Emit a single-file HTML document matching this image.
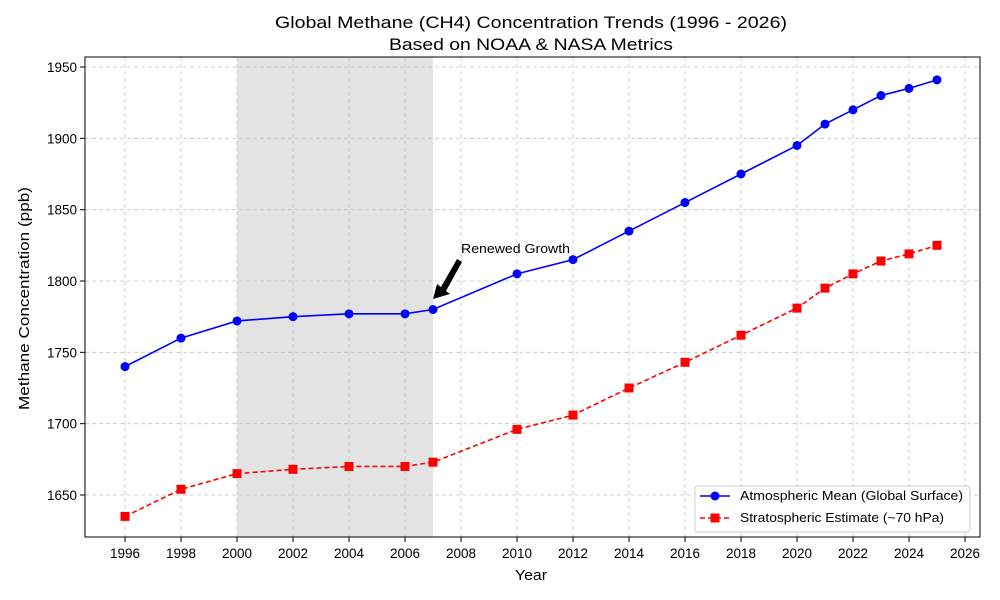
<!DOCTYPE html>
<html><head><meta charset="utf-8"><style>
html,body{margin:0;padding:0;background:#fff;}
svg{display:block;font-family:"Liberation Sans",sans-serif;}
</style></head><body>
<svg id="c" width="1000" height="600" xmlns="http://www.w3.org/2000/svg"></svg>
<script>
const s=document.getElementById('c');
const X=y=>125+(y-1996)*28, Y=v=>495-(v-1650)*(428/300);
let h='';
h+='<rect x="0" y="0" width="1000" height="600" fill="#fff"/>';
h+=`<rect x="${X(2000)}" y="57" width="${X(2007)-X(2000)}" height="480" fill="#e3e3e3"/>`;
for(let y=1996;y<=2026;y+=2){const x=X(y);h+=`<line x1="${x}" y1="57" x2="${x}" y2="537" stroke="#c4c4c4" stroke-dasharray="4,3" stroke-width="0.8"/><line x1="${x}" y1="537" x2="${x}" y2="542" stroke="#000"/><text x="${x}" y="558" font-size="13.5" text-anchor="middle">${y}</text>`;}
for(let v=1650;v<=1950;v+=50){const y=Y(v);h+=`<line x1="85" y1="${y}" x2="980" y2="${y}" stroke="#c4c4c4" stroke-dasharray="4,3" stroke-width="0.8"/><line x1="80" y1="${y}" x2="85" y2="${y}" stroke="#000"/><text x="77" y="${y+5}" font-size="13.5" text-anchor="end">${v}</text>`;}
h+='<rect x="85" y="57" width="895" height="480" fill="none" stroke="#000" stroke-width="1"/>';
const yrs=[1996,1998,2000,2002,2004,2006,2007,2010,2012,2014,2016,2018,2020,2021,2022,2023,2024,2025];
const b=[1740,1760,1772,1775,1777,1777,1780,1805,1815,1835,1855,1875,1895,1910,1920,1930,1935,1941];
const r=[1635,1654,1665,1668,1670,1670,1673,1696,1706,1725,1743,1762,1781,1795,1805,1814,1819,1825];
h+=`<polyline fill="none" stroke="#0000ff" stroke-width="1.6" points="${yrs.map((y,i)=>X(y)+','+Y(b[i])).join(' ')}"/>`;
yrs.forEach((y,i)=>h+=`<circle cx="${X(y)}" cy="${Y(b[i])}" r="4.5" fill="#0000ff"/>`);
h+=`<polyline fill="none" stroke="#ff0000" stroke-width="1.6" stroke-dasharray="5,3" points="${yrs.map((y,i)=>X(y)+','+Y(r[i])).join(' ')}"/>`;
yrs.forEach((y,i)=>h+=`<rect x="${X(y)-4.5}" y="${Y(r[i])-4.5}" width="9" height="9" fill="#ff0000"/>`);
h+='<polygon points="433,299 437,284 441,287 457,259 462,262 446,291 450,294" fill="#000"/>';
h+='<text x="461" y="253" font-size="12.5" textLength="109" lengthAdjust="spacingAndGlyphs">Renewed Growth</text>';
h+='<text x="515" y="580" font-size="14.5" textLength="32" lengthAdjust="spacingAndGlyphs">Year</text>';
h+='<text transform="translate(29,410) rotate(-90)" font-size="14.5" textLength="223" lengthAdjust="spacingAndGlyphs">Methane Concentration (ppb)</text>';
h+='<text x="275" y="28" font-size="17" textLength="512" lengthAdjust="spacingAndGlyphs">Global Methane (CH4) Concentration Trends (1996 - 2026)</text>';
h+='<text x="389" y="50" font-size="17" textLength="284" lengthAdjust="spacingAndGlyphs">Based on NOAA &amp; NASA Metrics</text>';
h+='<rect x="695" y="486" width="275" height="46" rx="3" fill="#fff" fill-opacity="0.9" stroke="#ccc"/>';
h+='<line x1="700" y1="496" x2="730" y2="496" stroke="#0000ff" stroke-width="1.6"/><circle cx="715" cy="496" r="4.5" fill="#0000ff"/>';
h+='<text x="740" y="500" font-size="12.5" textLength="223" lengthAdjust="spacingAndGlyphs">Atmospheric Mean (Global Surface)</text>';
h+='<line x1="700" y1="518" x2="730" y2="518" stroke="#ff0000" stroke-width="1.6" stroke-dasharray="5,3"/><rect x="710.5" y="513.5" width="9" height="9" fill="#ff0000"/>';
h+='<text x="740" y="522" font-size="12.5" textLength="204" lengthAdjust="spacingAndGlyphs">Stratospheric Estimate (~70 hPa)</text>';
s.innerHTML=h;
</script>
</body></html>
